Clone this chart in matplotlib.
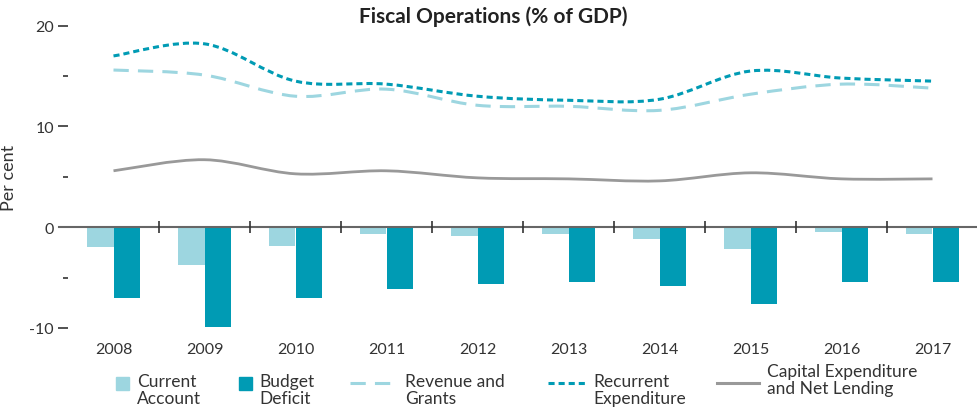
import numpy as np
import matplotlib
matplotlib.use("Agg")
import matplotlib.pyplot as plt
from matplotlib.path import Path
from matplotlib.patches import PathPatch, Rectangle
from matplotlib.lines import Line2D

# Data (% of GDP)
years = ["2008", "2009", "2010", "2011", "2012", "2013", "2014", "2015", "2016", "2017"]
current_account = [-2.0, -3.7, -1.9, -0.7, -0.9, -0.7, -1.2, -2.2, -0.5, -0.7]
budget_deficit = [-7.0, -9.9, -7.0, -6.1, -5.6, -5.4, -5.8, -7.6, -5.4, -5.4]
revenue_grants = [15.6, 15.1, 13.0, 13.7, 12.1, 12.0, 11.6, 13.2, 14.2, 13.8]
recurrent_exp = [17.0, 18.2, 14.5, 14.2, 13.0, 12.6, 12.7, 15.5, 14.8, 14.5]
capital_exp = [5.6, 6.7, 5.3, 5.6, 4.9, 4.8, 4.6, 5.4, 4.8, 4.8]

light = "#9dd6e0"
dark = "#009bb4"
grey = "#999999"
axis_col = "#666666"
text_col = "#333333"

plt.rcParams["font.family"] = ["Lato", "DejaVu Sans"]

W, H = 978, 410
fig = plt.figure(figsize=(W / 100, H / 100), dpi=100)


def fx(px):
    return px / W


def fy(py):
    return 1 - py / H


ax = fig.add_axes([fx(68), fy(329), fx(978) - fx(68), fy(26.7) - fy(329)])

x = np.arange(len(years))
bw = 0.295
ax.bar(x - bw / 2, current_account, bw, color=light, zorder=2)
ax.bar(x + bw / 2, budget_deficit, bw, color=dark, zorder=2)


def smooth_path(xs, ys):
    # Catmull-Rom style bezier through the data points
    pts = np.column_stack([xs, ys]).astype(float)
    n = len(pts)
    verts = [pts[0]]
    codes = [Path.MOVETO]
    for i in range(n - 1):
        p0 = pts[max(i - 1, 0)]
        p1 = pts[i]
        p2 = pts[i + 1]
        p3 = pts[min(i + 2, n - 1)]
        c1 = p1 + (p2 - p0) / 6
        c2 = p2 - (p3 - p1) / 6
        verts += [c1, c2, p2]
        codes += [Path.CURVE4] * 3
    return Path(verts, codes)


ax.add_patch(PathPatch(smooth_path(x, revenue_grants), fill=False, edgecolor=light,
                       lw=2.2, linestyle=(0, (5, 3)), zorder=3))
ax.add_patch(PathPatch(smooth_path(x, recurrent_exp), fill=False, edgecolor=dark,
                       lw=2.2, linestyle=(0, (2, 1.3)), zorder=3))
ax.add_patch(PathPatch(smooth_path(x, capital_exp), fill=False, edgecolor=grey,
                       lw=2.0, zorder=3))

ax.set_xlim(-0.5, len(years) - 0.5)
ax.set_ylim(-10, 20)

# zero line with category separators
ax.axhline(0, color=axis_col, lw=1.5, zorder=4, xmin=-0.01, clip_on=False)
bounds = np.arange(len(years)) + 0.5
ax.plot(bounds, np.zeros(len(bounds)), ls="", marker="|", ms=9, mew=1.2,
        color="#333333", zorder=5, clip_on=False)

for s in ax.spines.values():
    s.set_visible(False)

ax.set_xticks(x)
ax.set_xticklabels(years, fontsize=11.5, color=text_col)
ax.tick_params(axis="x", length=0, pad=10)

ax.set_yticks([-10, 0, 10, 20])
ax.set_yticklabels(["-10", "0", "10", "20"], fontsize=11.5, color=text_col)
ax.set_yticks([-5, 5, 15], minor=True)
ax.tick_params(axis="y", which="major", length=7, width=1.2, color="#333333", pad=3)
ax.tick_params(axis="y", which="minor", length=3.5, width=1.2, color="#333333")
ax.set_ylabel("Per cent", fontsize=13, color=text_col)
ax.yaxis.set_label_coords(-0.056, 0.5)

fig.text(fx(493), fy(17), "Fiscal Operations (% of GDP)", ha="center", va="center",
         fontsize=15, fontweight="bold", color="#222222")

# legend drawn by hand so the two-line labels line up like the original
hy = 384
fig.add_artist(Rectangle((fx(116), fy(hy + 6.5)), fx(13), fy(hy - 6.5) - fy(hy + 6.5),
                         transform=fig.transFigure, color=light))
fig.add_artist(Rectangle((fx(239), fy(hy + 6.5)), fx(13), fy(hy - 6.5) - fy(hy + 6.5),
                         transform=fig.transFigure, color=dark))
fig.add_artist(Line2D([fx(350), fx(395)], [fy(hy), fy(hy)], transform=fig.transFigure,
                      color=light, lw=2.2, linestyle=(0, (5, 3))))
fig.add_artist(Line2D([fx(548), fx(586)], [fy(hy), fy(hy)], transform=fig.transFigure,
                      color=dark, lw=2.2, linestyle=(0, (2, 1.3))))
fig.add_artist(Line2D([fx(717), fx(759)], [fy(hy), fy(hy)], transform=fig.transFigure,
                      color=grey, lw=2.2))

leg_kw = dict(fontsize=12.5, color=text_col, va="top", ha="left", linespacing=1.1)
fig.text(fx(137), fy(374), "Current\nAccount", **leg_kw)
fig.text(fx(259), fy(374), "Budget\nDeficit", **leg_kw)
fig.text(fx(405), fy(374), "Revenue and\nGrants", **leg_kw)
fig.text(fx(593), fy(374), "Recurrent\nExpenditure", **leg_kw)
fig.text(fx(767), fy(364), "Capital Expenditure\nand Net Lending", **leg_kw)

fig.savefig("out.png", dpi=100)
